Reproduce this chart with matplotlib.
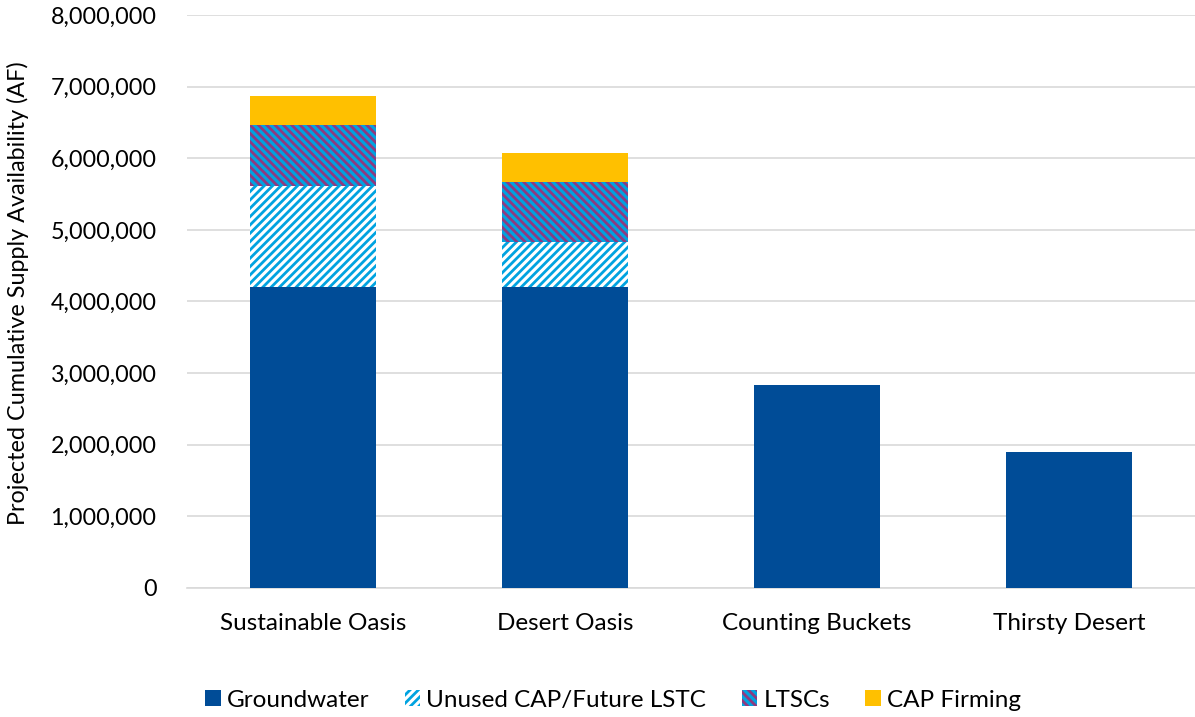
import matplotlib.pyplot as plt
import matplotlib as mpl
import numpy as np
from matplotlib.ticker import FuncFormatter

plt.rcParams['font.family'] = ['Lato', 'DejaVu Sans']
plt.rcParams['hatch.linewidth'] = 2.0

# Cenários e volumes acumulados (AF)
cenarios = ["Sustainable Oasis", "Desert Oasis", "Counting Buckets", "Thirsty Desert"]
groundwater = [4200000, 4200000, 2835000, 1900000]
unused_cap = [1415000, 630000, 0, 0]
ltscs = [850000, 840000, 0, 0]
cap_firming = [405000, 405000, 0, 0]

azul_escuro = "#004C97"
azul_claro = "#00A3E0"
roxo = "#8E3A80"
amarelo = "#FFC000"

fig = plt.figure(figsize=(11.95, 7.17), dpi=100)
ax = fig.add_axes([0.1565, 0.180, 0.8435, 0.799])

x = np.arange(len(cenarios))
largura = 0.5

base = np.zeros(len(cenarios))
ax.bar(x, groundwater, largura, bottom=base, color=azul_escuro, label="Groundwater", zorder=3)
base += groundwater
plt.rcParams['hatch.color'] = azul_claro
ax.bar(x, unused_cap, largura, bottom=base, facecolor="white", edgecolor=azul_claro,
       linewidth=0, hatch="/" * 4, label="Unused CAP/Future LSTC", zorder=3)
base += unused_cap
b = ax.bar(x, ltscs, largura, bottom=base, facecolor=azul_claro, edgecolor=roxo,
           linewidth=0, hatch="\\" * 4, label="LTSCs", zorder=3)
for p in b:
    p._hatch_color = mpl.colors.to_rgba(roxo)
base += ltscs
ax.bar(x, cap_firming, largura, bottom=base, color=amarelo, label="CAP Firming", zorder=3)

ax.set_xlim(-0.5, 3.5)
ax.set_ylim(0, 8000000)
ax.set_yticks(np.arange(0, 8000001, 1000000))
ax.yaxis.set_major_formatter(FuncFormatter(lambda v, p: f"{int(v):,}"))
ax.set_xticks(x)
ax.set_xticklabels(cenarios)
ax.tick_params(axis='both', length=0, colors="#000000")
ax.tick_params(axis='x', labelsize=17.5, pad=18)
ax.tick_params(axis='y', labelsize=16.8, pad=22)
ax.grid(axis='y', color="#D9D9D9", linewidth=1.2, zorder=0)
ax.set_axisbelow(True)
for s in ["top", "right", "left"]:
    ax.spines[s].set_visible(False)
ax.spines["bottom"].set_color("#D9D9D9")
ax.spines["bottom"].set_linewidth(1.2)

ax.set_ylabel("Projected Cumulative Supply Availability (AF)", fontsize=16.8)
ax.yaxis.set_label_coords(-0.157, 0.515)

leg = fig.legend(loc="center", bbox_to_anchor=(0.513, 0.0237), ncol=4, frameon=False,
                 fontsize=17.5, handlelength=0.65, handleheight=0.65, handletextpad=0.25,
                 columnspacing=1.45)
for h in leg.legend_handles:
    if h.get_label() == "LTSCs":
        h._hatch_color = mpl.colors.to_rgba(roxo)

fig.savefig("out.png", dpi=100)
